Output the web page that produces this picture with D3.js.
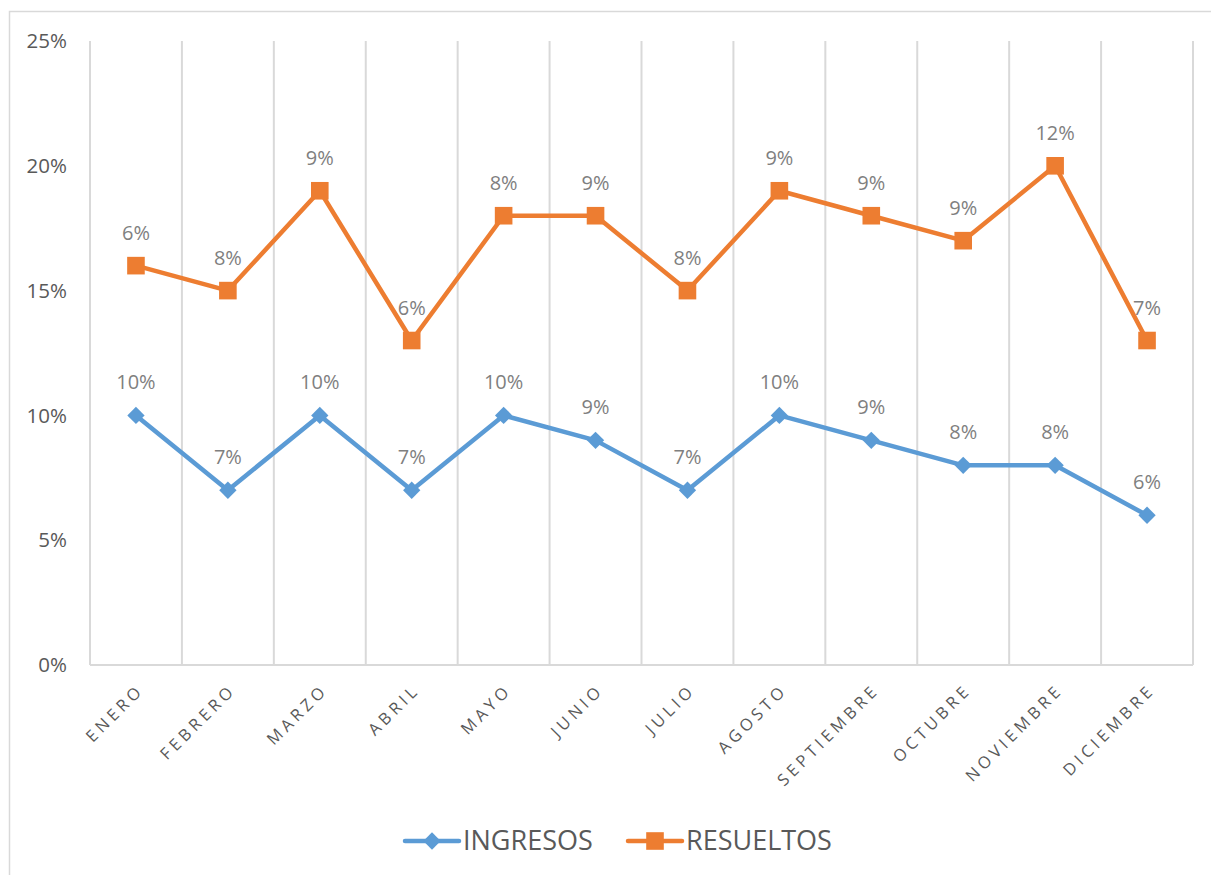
<!DOCTYPE html>
<html>
<head>
    <meta charset="utf-8">
    <title>ingresos resueltos</title>
    <style>
        body { margin: 0; background: #fff; }
        svg { font-family: "Open Sans", "Noto Sans", sans-serif; }
        .grid line { stroke: #d9d9d9; stroke-width: 2px; }
        .ytick { fill: #595959; font-size: 20.5px; }
        .xtick { fill: #595959; font-size: 16.5px; letter-spacing: 4px; }
        .lbl { fill: #7f7f7f; font-size: 20px; }
        .leg { fill: #595959; font-size: 27px; }
    </style>
</head>
<body>
<script src="https://cdn.jsdelivr.net/npm/d3@7"></script>
<script>
    // data
    var months = ["ENERO", "FEBRERO", "MARZO", "ABRIL", "MAYO", "JUNIO", "JULIO",
        "AGOSTO", "SEPTIEMBRE", "OCTUBRE", "NOVIEMBRE", "DICIEMBRE"];
    var ingresos = [10, 7, 10, 7, 10, 9, 7, 10, 9, 8, 8, 6];
    var resueltos = [6, 8, 9, 6, 8, 9, 8, 9, 9, 9, 12, 7];
    var yTicks = [0, 5, 10, 15, 20, 25];

    var W = 1211, H = 875;
    var margin = {top: 41, left: 90, right: 18, bottom: 210};

    var svg = d3.select("body").append("svg")
        .attr("width", W)
        .attr("height", H);

    // chart border
    svg.append("rect")
        .attr("x", 9.5).attr("y", 11.5)
        .attr("width", W).attr("height", H)
        .attr("fill", "none")
        .attr("stroke", "#d9d9d9")
        .attr("stroke-width", 1.5);

    var x = d3.scaleBand()
        .domain(months)
        .range([margin.left, W - margin.right]);

    var y = d3.scaleLinear()
        .domain([0, 25])
        .range([H - margin.bottom, margin.top]);

    // vertical gridlines on band edges
    var edges = months.map(function (m) { return x(m); }).concat([x.range()[1]]);
    svg.append("g").attr("class", "grid")
        .selectAll("line")
        .data(edges)
        .enter().append("line")
        .attr("x1", function (d) { return d; })
        .attr("x2", function (d) { return d; })
        .attr("y1", y(25))
        .attr("y2", y(0));

    // bottom axis line
    svg.append("line")
        .attr("x1", x.range()[0]).attr("x2", x.range()[1])
        .attr("y1", y(0)).attr("y2", y(0))
        .attr("stroke", "#d9d9d9").attr("stroke-width", 2);

    // y tick labels
    svg.selectAll(".ytick")
        .data(yTicks)
        .enter().append("text")
        .attr("class", "ytick")
        .attr("x", 67)
        .attr("y", function (d) { return y(d); })
        .attr("dy", "0.35em")
        .attr("text-anchor", "end")
        .text(function (d) { return d + "%"; });

    // x tick labels, rotated
    svg.selectAll(".xtick")
        .data(months)
        .enter().append("text")
        .attr("class", "xtick")
        .attr("text-anchor", "end")
        .attr("transform", function (d) {
            var cx = x(d) + x.bandwidth() / 2 + 9;
            return "translate(" + cx + "," + (y(0) + 26) + ") rotate(-45)";
        })
        .text(function (d) { return d; });

    // stacked values
    var stacked = resueltos.map(function (v, i) { return v + ingresos[i]; });

    var line = d3.line()
        .x(function (d, i) { return x(months[i]) + x.bandwidth() / 2; })
        .y(function (d) { return y(d); });

    var series = [
        {name: "INGRESOS", color: "#5b9bd5", vals: ingresos, labels: ingresos, size: 150, rot: 45},
        {name: "RESUELTOS", color: "#ed7d31", vals: stacked, labels: resueltos, size: 310, rot: 0}
    ];

    series.forEach(function (s) {
        svg.append("path")
            .attr("d", line(s.vals))
            .attr("fill", "none")
            .attr("stroke", s.color)
            .attr("stroke-width", 4.5)
            .attr("stroke-linejoin", "round");

        var sym = d3.symbol().type(d3.symbolSquare).size(s.size);
        svg.append("g").selectAll("path")
            .data(s.vals)
            .enter().append("path")
            .attr("d", sym)
            .attr("fill", s.color)
            .attr("transform", function (d, i) {
                return "translate(" + (x(months[i]) + x.bandwidth() / 2) + "," + y(d) + ") rotate(" + s.rot + ")";
            });

        svg.append("g").selectAll("text")
            .data(s.vals)
            .enter().append("text")
            .attr("class", "lbl")
            .attr("text-anchor", "middle")
            .attr("x", function (d, i) { return x(months[i]) + x.bandwidth() / 2; })
            .attr("y", function (d) { return y(d) - 26; })
            .text(function (d, i) { return s.labels[i] + "%"; });
    });

    // legend
    var legend = svg.append("g");
    var legX = [405, 628];
    series.forEach(function (s, i) {
        var g = legend.append("g").attr("transform", "translate(" + legX[i] + ",841)");
        g.append("line")
            .attr("x1", 0).attr("x2", 54)
            .attr("stroke", s.color).attr("stroke-width", 4.5).attr("stroke-linecap", "round");
        g.append("path")
            .attr("d", d3.symbol().type(d3.symbolSquare).size(s.size))
            .attr("fill", s.color)
            .attr("transform", "translate(27,0) rotate(" + s.rot + ")");
        g.append("text")
            .attr("class", "leg")
            .attr("x", 58)
            .attr("dy", "0.35em")
            .text(s.name);
    });
</script>
</body>
</html>
